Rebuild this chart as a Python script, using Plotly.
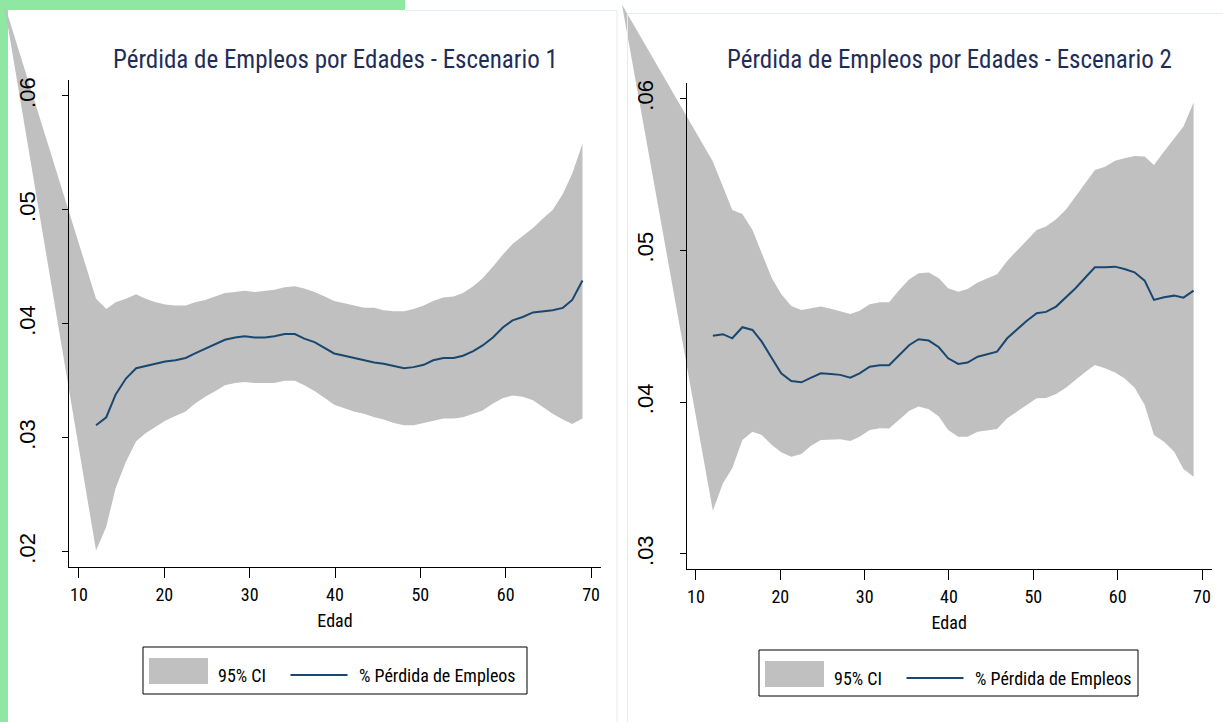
import plotly.graph_objects as go

W, H = 1223, 722

# ---------------- data ----------------
ages = [12.0, 13.2, 14.3, 15.5, 16.7, 17.8, 19.0, 20.1, 21.3, 22.5,
        23.6, 24.8, 26.0, 27.1, 28.3, 29.4, 30.6, 31.8, 32.9, 34.1,
        35.3, 36.4, 37.6, 38.8, 39.9, 41.1, 42.2, 43.4, 44.6, 45.7,
        46.9, 48.1, 49.2, 50.4, 51.5, 52.7, 53.9, 55.0, 56.2, 57.3,
        58.5, 59.7, 60.8, 62.0, 63.2, 64.3, 65.5, 66.7, 67.8, 69.0]

loss_1 = [0.0311, 0.0318, 0.0338, 0.0352, 0.0361, 0.0363, 0.0365, 0.0367, 0.0368, 0.0370,
          0.0374, 0.0378, 0.0382, 0.0386, 0.0388, 0.0389, 0.0388, 0.0388, 0.0389, 0.0391,
          0.0391, 0.0387, 0.0384, 0.0379, 0.0374, 0.0372, 0.0370, 0.0368, 0.0366, 0.0365,
          0.0363, 0.0361, 0.0362, 0.0364, 0.0368, 0.0370, 0.0370, 0.0372, 0.0376, 0.0381,
          0.0388, 0.0397, 0.0403, 0.0406, 0.0410, 0.0411, 0.0412, 0.0414, 0.0421, 0.0438]
upper_1 = [0.0422, 0.0413, 0.0419, 0.0422, 0.0426, 0.0422, 0.0419, 0.0417, 0.0416, 0.0416,
           0.0419, 0.0421, 0.0424, 0.0427, 0.0428, 0.0429, 0.0428, 0.0429, 0.0430, 0.0432,
           0.0433, 0.0431, 0.0428, 0.0424, 0.0420, 0.0418, 0.0416, 0.0414, 0.0414, 0.0412,
           0.0411, 0.0411, 0.0413, 0.0416, 0.0420, 0.0423, 0.0424, 0.0427, 0.0433, 0.0440,
           0.0450, 0.0461, 0.0470, 0.0477, 0.0484, 0.0492, 0.0500, 0.0514, 0.0532, 0.0558]
lower_1 = [0.0201, 0.0222, 0.0256, 0.0279, 0.0297, 0.0304, 0.0310, 0.0315, 0.0319, 0.0323,
           0.0330, 0.0336, 0.0341, 0.0346, 0.0348, 0.0349, 0.0348, 0.0348, 0.0348, 0.0350,
           0.0350, 0.0346, 0.0341, 0.0335, 0.0329, 0.0326, 0.0323, 0.0321, 0.0318, 0.0316,
           0.0313, 0.0311, 0.0311, 0.0313, 0.0315, 0.0317, 0.0317, 0.0318, 0.0321, 0.0324,
           0.0330, 0.0335, 0.0337, 0.0336, 0.0333, 0.0327, 0.0321, 0.0316, 0.0312, 0.0317]

loss_2 = [0.04438, 0.04448, 0.04421, 0.04494, 0.04476, 0.04399, 0.04289, 0.04190, 0.04140, 0.04131,
          0.04160, 0.04190, 0.04185, 0.04180, 0.04162, 0.04190, 0.04234, 0.04243, 0.04243, 0.04311,
          0.04377, 0.04415, 0.04406, 0.04362, 0.04289, 0.04252, 0.04261, 0.04300, 0.04318, 0.04333,
          0.04421, 0.04480, 0.04535, 0.04586, 0.04595, 0.04630, 0.04691, 0.04751, 0.04823, 0.04889,
          0.04889, 0.04893, 0.04878, 0.04856, 0.04801, 0.04674, 0.04692, 0.04702, 0.04689, 0.04735]
upper_2 = [0.05585, 0.05420, 0.05267, 0.05240, 0.05135, 0.04981, 0.04817, 0.04713, 0.04634, 0.04608,
           0.04620, 0.04630, 0.04615, 0.04601, 0.04581, 0.04603, 0.04645, 0.04658, 0.04658, 0.04739,
           0.04810, 0.04850, 0.04854, 0.04817, 0.04751, 0.04728, 0.04746, 0.04788, 0.04817, 0.04843,
           0.04931, 0.05000, 0.05070, 0.05135, 0.05157, 0.05205, 0.05271, 0.05354, 0.05447, 0.05530,
           0.05552, 0.05590, 0.05607, 0.05622, 0.05618, 0.05563, 0.05651, 0.05739, 0.05816, 0.05974]
lower_2 = [0.03285, 0.03466, 0.03565, 0.03751, 0.03806, 0.03784, 0.03718, 0.03670, 0.03641, 0.03659,
           0.03712, 0.03751, 0.03755, 0.03756, 0.03745, 0.03773, 0.03817, 0.03828, 0.03826, 0.03883,
           0.03944, 0.03971, 0.03953, 0.03905, 0.03817, 0.03773, 0.03773, 0.03806, 0.03817, 0.03824,
           0.03894, 0.03940, 0.03985, 0.04026, 0.04028, 0.04054, 0.04096, 0.04147, 0.04201, 0.04245,
           0.04224, 0.04195, 0.04158, 0.04096, 0.03982, 0.03784, 0.03740, 0.03674, 0.03560, 0.03509]

# the CI polygon of each panel closes on a stray point far up-left of the axes
ci_apex_age = [1.2, 1.22]
ci_apex_val = [0.0682, 0.0662]

x_ticks = [10, 20, 30, 40, 50, 60, 70]
x_tick_labels = ["10", "20", "30", "40", "50", "60", "70"]
y_ticks_1 = [0.02, 0.03, 0.04, 0.05, 0.06]
y_tick_labels_1 = [".02", ".03", ".04", ".05", ".06"]
y_ticks_2 = [0.03, 0.04, 0.05, 0.06]
y_tick_labels_2 = [".03", ".04", ".05", ".06"]

titles = ["Pérdida de Empleos por Edades - Escenario 1",
          "Pérdida de Empleos por Edades - Escenario 2"]
x_title = "Edad"
ci_name = "95% CI"
line_name = "% Pérdida de Empleos"

# ---------------- styling ----------------
COND = "Roboto Condensed, DejaVu Sans Condensed, sans-serif"
REG = "Liberation Sans, Arial, sans-serif"
BAND = "#c0c0c0"
LINE = "#1a476f"
GRID = "#e9f1f4"
TITLE_COL = "#1f2d5a"
GREEN = "#8ee8a2"
BORDER = "#e4ecf3"

panels = [
    dict(l=69, r=601, t=80, b=567.3, xr=(8.83, 71.17), yr=(0.01863, 0.0614),
         ext_l=0, ext_t=0, yt=y_ticks_1, ytl=y_tick_labels_1,
         loss=loss_1, up=upper_1, lo=lower_1, title_y=59,
         leg=dict(x=143, y=647, w=384, h=47)),
    dict(l=686.7, r=1211.7, t=83.3, b=569.3, xr=(8.9, 71.15), yr=(0.02899, 0.06101),
         ext_l=617, ext_t=0, yt=y_ticks_2, ytl=y_tick_labels_2,
         loss=loss_2, up=upper_2, lo=lower_2, title_y=59,
         leg=dict(x=759, y=650, w=379, h=46)),
]


def px(x):
    return x / W


def py(y):
    return 1 - y / H


def ext_range(r0, r1, d0, d1, e0, e1):
    s = (r1 - r0) / (d1 - d0)
    return [r0 + (e0 - d0) * s, r0 + (e1 - d0) * s]


fig = go.Figure()
layout = dict(
    width=W, height=H, margin=dict(l=0, r=0, t=0, b=0, pad=0),
    paper_bgcolor="white", plot_bgcolor="rgba(0,0,0,0)",
    template="none", showlegend=False,
)
annotations = []
shapes = [
    dict(type="rect", xref="paper", yref="paper", x0=0, x1=px(405), y0=py(10), y1=1,
         fillcolor=GREEN, line=dict(width=0), layer="below"),
    dict(type="rect", xref="paper", yref="paper", x0=0, x1=px(8), y0=0, y1=1,
         fillcolor=GREEN, line=dict(width=0), layer="below"),
    dict(type="line", xref="paper", yref="paper", x0=px(405), x1=px(617), y0=py(10.5), y1=py(10.5),
         line=dict(color=BORDER, width=1)),
    dict(type="line", xref="paper", yref="paper", x0=px(617), x1=px(617), y0=0, y1=py(10.5),
         line=dict(color=BORDER, width=1)),
    dict(type="line", xref="paper", yref="paper", x0=px(627.5), x1=1, y0=py(13.5), y1=py(13.5),
         line=dict(color=BORDER, width=1)),
    dict(type="line", xref="paper", yref="paper", x0=px(627.5), x1=px(627.5), y0=0, y1=py(13.5),
         line=dict(color=BORDER, width=1)),
]

for i, p in enumerate(panels):
    a, b, c = 3 * i + 1, 3 * i + 2, 3 * i + 3

    def nm(k):
        return "" if k == 1 else str(k)

    xd = [px(p["l"]), px(p["r"])]
    yd = [py(p["b"]), py(p["t"])]
    xd_ext = [px(p["ext_l"]), px(p["r"])]
    yd_ext = [py(p["b"]), py(p["ext_t"])]
    xr_ext = ext_range(p["xr"][0], p["xr"][1], xd[0], xd[1], xd_ext[0], xd_ext[1])
    yr_ext = ext_range(p["yr"][0], p["yr"][1], yd[0], yd[1], yd_ext[0], yd_ext[1])

    # subplot A: gridlines only (drawn first, below the band)
    layout["xaxis" + nm(a)] = dict(domain=xd, range=list(p["xr"]), anchor="y" + nm(a),
                                   showgrid=False, showline=False, showticklabels=False,
                                   ticks="", zeroline=False)
    layout["yaxis" + nm(a)] = dict(domain=yd, range=list(p["yr"]), anchor="x" + nm(a),
                                   tickvals=p["yt"], showgrid=True, gridcolor=GRID, gridwidth=1.5,
                                   showline=False, showticklabels=False, ticks="", zeroline=False)
    # subplot B: CI band on extended axes sharing the same data scale
    layout["xaxis" + nm(b)] = dict(domain=xd_ext, range=xr_ext, anchor="y" + nm(b), visible=False)
    layout["yaxis" + nm(b)] = dict(domain=yd_ext, range=yr_ext, anchor="x" + nm(b), visible=False)
    # subplot C: axes + estimate line
    layout["xaxis" + nm(c)] = dict(domain=xd, range=list(p["xr"]), anchor="y" + nm(c),
                                   tickvals=x_ticks, ticktext=x_tick_labels, ticks="outside",
                                   ticklen=10, tickcolor="black", tickwidth=1,
                                   showline=True, linecolor="black", linewidth=1,
                                   showgrid=False, zeroline=False,
                                   tickfont=dict(family=COND, size=18, color="black"),
                                   ticklabelstandoff=1,
                                   title=dict(text=x_title, standoff=10,
                                              font=dict(family=COND, size=18, color="black")))
    layout["yaxis" + nm(c)] = dict(domain=yd, range=list(p["yr"]), anchor="x" + nm(c),
                                   tickvals=p["yt"], ticktext=p["ytl"], ticks="outside",
                                   ticklen=6, tickcolor="black", tickwidth=1,
                                   showline=True, linecolor="black", linewidth=1,
                                   showgrid=False, zeroline=False, tickangle=-90,
                                   tickfont=dict(family=REG, size=22, color="black"),
                                   ticklabelstandoff=18)

    band_x = [ci_apex_age[i]] + ages
    fig.add_trace(go.Scatter(x=band_x, y=[ci_apex_val[i]] + p["lo"], mode="lines",
                             line=dict(width=0, color=BAND), hoverinfo="skip",
                             xaxis="x" + nm(b), yaxis="y" + nm(b)))
    fig.add_trace(go.Scatter(x=band_x, y=[ci_apex_val[i]] + p["up"], mode="lines",
                             line=dict(width=0, color=BAND), fill="tonexty", fillcolor=BAND,
                             name=ci_name, xaxis="x" + nm(b), yaxis="y" + nm(b)))
    fig.add_trace(go.Scatter(x=ages, y=p["loss"], mode="lines",
                             line=dict(width=2, color=LINE), name=line_name,
                             xaxis="x" + nm(c), yaxis="y" + nm(c)))

    cx = (p["l"] + p["r"]) / 2
    annotations.append(dict(text=titles[i], x=px(cx), y=py(p["title_y"]), xref="paper", yref="paper",
                            xanchor="center", yanchor="middle", showarrow=False,
                            font=dict(family=COND, size=25, color=TITLE_COL)))

    # legend frame with key for the band and the line
    L = p["leg"]
    shapes.append(dict(type="rect", xref="paper", yref="paper",
                       x0=px(L["x"]), x1=px(L["x"] + L["w"]), y0=py(L["y"] + L["h"]), y1=py(L["y"]),
                       fillcolor="white", line=dict(color="black", width=1)))
    shapes.append(dict(type="rect", xref="paper", yref="paper",
                       x0=px(L["x"] + 6), x1=px(L["x"] + 65), y0=py(L["y"] + 37), y1=py(L["y"] + 11),
                       fillcolor=BAND, line=dict(width=0)))
    shapes.append(dict(type="line", xref="paper", yref="paper",
                       x0=px(L["x"] + 147.5), x1=px(L["x"] + 204.5),
                       y0=py(L["y"] + 28), y1=py(L["y"] + 28),
                       line=dict(color=LINE, width=2)))
    for tx, txt in ((73, ci_name), (214, line_name)):
        annotations.append(dict(text=txt, x=px(L["x"] + tx), y=py(L["y"] + 28), xref="paper",
                                yref="paper", xanchor="left", yanchor="middle", showarrow=False,
                                font=dict(family=COND, size=18, color="black")))

layout["annotations"] = annotations
layout["shapes"] = shapes
fig.update_layout(**layout)
fig.write_html("out.html", config={"displayModeBar": False},
               post_script="document.body.style.margin='0px';")
